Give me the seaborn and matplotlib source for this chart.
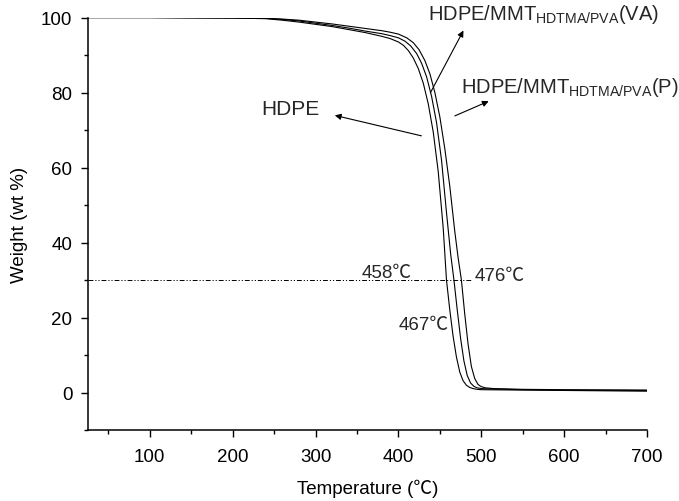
import numpy as np
import pandas as pd
import matplotlib
matplotlib.use("Agg")
import matplotlib.pyplot as plt
import seaborn as sns

# TGA data (temperature in C, weight in wt %)
hdpe_t = [25, 100, 200, 240, 260, 280, 300, 320, 340, 360, 380, 390, 400, 406, 412, 418, 424, 430, 436, 442, 448, 454, 458,
          462, 466, 470, 474, 478, 482, 486, 490, 495, 500, 550, 600, 700]
hdpe_w = [100, 100, 99.9, 99.7, 99.3, 98.8, 98.2, 97.6, 96.8, 96.0, 95.0, 94.4, 93.5, 92.6, 91.2, 89.2, 86.4, 82.5, 77.0, 69.5, 59, 44, 30,
          22, 15, 9.5, 5.5, 3.2, 2.0, 1.4, 1.1, 0.9, 0.8, 0.7, 0.6, 0.4]

va_t = [25, 100, 200, 240, 260, 280, 300, 320, 340, 360, 380, 390, 400, 408, 415, 422, 428, 434, 440, 446, 452, 458, 463, 467,
        471, 475, 479, 483, 487, 491, 495, 500, 510, 550, 600, 700]
va_w = [100, 100, 99.9, 99.8, 99.5, 99.1, 98.5, 97.9, 97.2, 96.4, 95.7, 95.2, 94.6, 93.7, 92.4, 90.4, 87.8, 84.2, 79.0, 72, 62, 48, 37, 30,
        22, 14.5, 8.5, 4.6, 2.6, 1.7, 1.3, 1.1, 1.0, 0.8, 0.7, 0.6]

p_t = [25, 100, 200, 240, 260, 280, 300, 320, 340, 360, 380, 390, 400, 410, 418, 425, 432, 438, 444, 450, 456, 462, 468, 472, 476,
       480, 484, 488, 492, 496, 500, 505, 515, 550, 600, 700]
p_w = [100, 100, 99.9, 99.8, 99.6, 99.3, 98.8, 98.3, 97.7, 97.1, 96.5, 96.1, 95.6, 94.6, 93.3, 91.4, 88.5, 85.0, 80.0, 73.5, 65, 55, 43, 36, 30,
       21, 13, 7, 3.8, 2.2, 1.6, 1.3, 1.1, 0.9, 0.8, 0.7]

plt.rcParams['figure.dpi'] = 100
sns.set_theme(style="ticks")
plt.rcParams['font.family'] = ['Liberation Sans', 'Noto Sans CJK SC', 'DejaVu Sans']
plt.rcParams['mathtext.fontset'] = 'custom'
plt.rcParams['mathtext.rm'] = 'Liberation Sans'

fig = plt.figure(figsize=(6.79, 5.02))
ax = fig.add_axes([0.129, 0.141, 0.824, 0.822])

for t, w in [(hdpe_t, hdpe_w), (va_t, va_w), (p_t, p_w)]:
    sns.lineplot(x=t, y=w, color="black", linewidth=0.8, sort=False, ax=ax)

# 30 wt% reference line
ax.plot([25, 489], [30, 30], color="black", linewidth=0.7, dashes=(5, 2, 1.2, 2, 1.2, 2))

ax.set_xlim(25, 700)
ax.set_ylim(-10, 100)
ax.set_xticks([100, 200, 300, 400, 500, 600, 700])
ax.set_xticks(np.arange(50, 701, 100), minor=True)
ax.set_yticks([0, 20, 40, 60, 80, 100])
ax.set_yticks([-10, 10, 30, 50, 70, 90], minor=True)
ax.tick_params(axis="both", which="major", length=5, width=1, labelsize=13.5, color="black", labelcolor="black",
               direction="out")
ax.tick_params(axis="x", which="major", pad=7.5)
ax.tick_params(axis="y", which="major", pad=6)
ax.tick_params(axis="both", which="minor", length=3, width=1, color="black", direction="out")
sns.despine(ax=ax)
for s in ["left", "bottom"]:
    ax.spines[s].set_color("black")
    ax.spines[s].set_linewidth(1.1)

ax.set_xlabel("Temperature (℃)", fontsize=13.5, color="black", labelpad=10)
ax.set_ylabel("Weight (wt %)", fontsize=13.5, color="black", labelpad=9)

arrow = dict(arrowstyle="-|>", color="black", lw=0.8, mutation_scale=9)
ax.annotate("", xy=(320, 74.1), xytext=(431, 68.3), arrowprops=arrow)
ax.text(235, 75.7, "HDPE", fontsize=15, va="center", ha="left")

ax.annotate("", xy=(480, 97.2), xytext=(437, 79.3), arrowprops=arrow)
ax.text(436, 101.2, r"HDPE/MMT$_{\mathrm{HDTMA/PVA}}$(VA)", fontsize=14.5, va="center", ha="left", clip_on=False)

ax.annotate("", xy=(512, 78), xytext=(465, 73.5), arrowprops=arrow)
ax.text(475, 81.6, r"HDPE/MMT$_{\mathrm{HDTMA/PVA}}$(P)", fontsize=14.5, va="center", ha="left")

ax.text(356, 32, "458℃", fontsize=13.5, va="center", ha="left")
ax.text(492, 31.2, "476℃", fontsize=13.5, va="center", ha="left")
ax.text(400, 18.3, "467℃", fontsize=13.5, va="center", ha="left")

fig.savefig("out.png", dpi=100, facecolor="white")
